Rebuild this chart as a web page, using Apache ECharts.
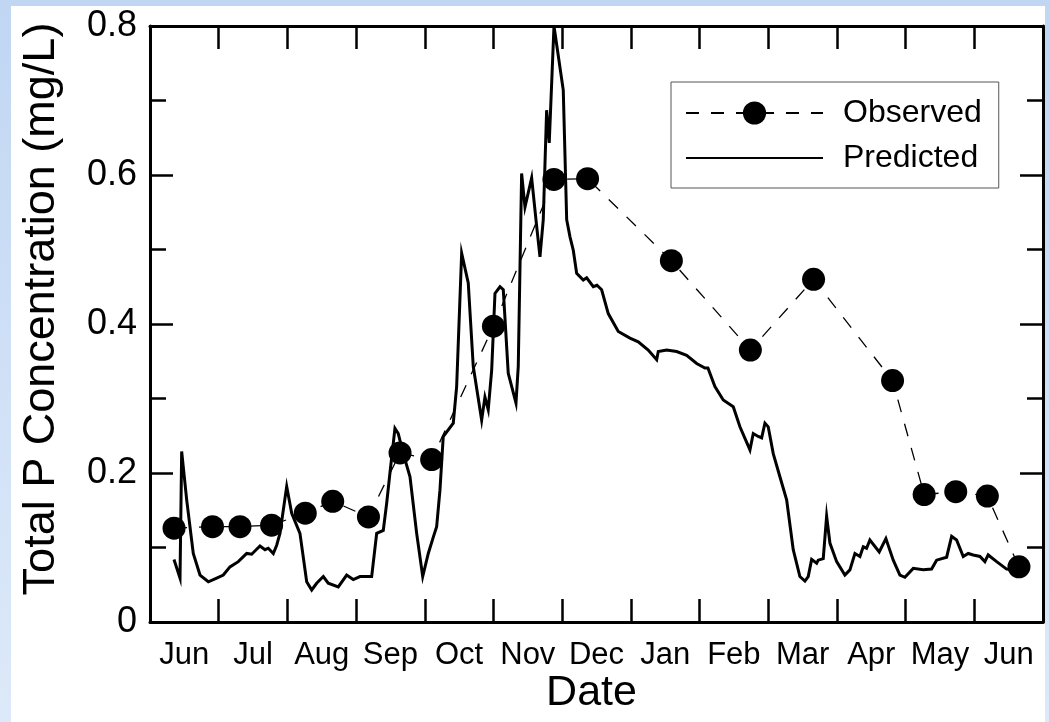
<!DOCTYPE html>
<html>
<head>
<meta charset="utf-8">
<title>Total P Concentration</title>
<script src="https://cdn.jsdelivr.net/npm/echarts@6/dist/echarts.min.js"></script>
<style>
  html, body { margin: 0; padding: 0; width: 1049px; height: 722px; overflow: hidden;
    background: linear-gradient(180deg, #c0d6f3 0%, #d2e2f7 60%, #dde9f9 100%); }
  #panel { position: absolute; left: 11px; top: 6px; width: 1034px; height: 716px; background: #fff; }
  #chart { position: absolute; left: 0; top: 0; width: 1049px; height: 722px; }
</style>
</head>
<body>
<div id="panel"></div>
<div id="chart"></div>
<script>
// Month names shown under each month interval
const monthLabels = ['Jun', 'Jul', 'Aug', 'Sep', 'Oct', 'Nov', 'Dec', 'Jan', 'Feb', 'Mar', 'Apr', 'May', 'Jun'];

// Time is counted in months from the start of the first June
const obsMonth = [0.35, 0.91, 1.31, 1.77, 2.26, 2.66, 3.18, 3.64, 4.10, 5.00,
                  5.88, 6.37, 7.59, 8.74, 9.66, 10.81, 11.27, 11.73, 12.19, 12.65];
const obsConc  = [0.126, 0.128, 0.128, 0.130, 0.146, 0.162, 0.141, 0.227, 0.218, 0.397,
                  0.594, 0.595, 0.485, 0.365, 0.460, 0.324, 0.171, 0.175, 0.169, 0.074];

const predMonth = [
  0.349, 0.437, 0.461, 0.534, 0.630, 0.728, 0.849, 0.971, 1.067, 1.164,
  1.285, 1.408, 1.480, 1.601, 1.674, 1.722, 1.795, 1.844, 1.892, 1.990,
  2.063, 2.183, 2.281, 2.354, 2.426, 2.523, 2.595, 2.741, 2.863, 2.959,
  3.057, 3.227, 3.300, 3.396, 3.445, 3.493, 3.566, 3.614, 3.687, 3.785,
  3.882, 3.970, 4.051, 4.124, 4.173, 4.221, 4.269, 4.415, 4.464, 4.537,
  4.633, 4.706, 4.828, 4.876, 4.924, 4.974, 5.022, 5.095, 5.143, 5.215,
  5.280, 5.328, 5.361, 5.410, 5.459, 5.556, 5.629, 5.677, 5.725, 5.774,
  5.812, 5.881, 6.016, 6.066, 6.114, 6.162, 6.211, 6.307, 6.357, 6.453,
  6.507, 6.575, 6.671, 6.817, 6.987, 7.108, 7.253, 7.376, 7.399, 7.521,
  7.667, 7.812, 7.958, 8.079, 8.122, 8.224, 8.345, 8.491, 8.588, 8.734,
  8.782, 8.855, 8.904, 8.952, 9.000, 9.073, 9.170, 9.268, 9.364, 9.461,
  9.534, 9.582, 9.632, 9.705, 9.728, 9.801, 9.850, 9.898, 9.996, 10.116,
  10.189, 10.262, 10.335, 10.383, 10.432, 10.480, 10.616, 10.713, 10.820, 10.917,
  10.990, 11.111, 11.256, 11.378, 11.451, 11.597, 11.670, 11.742, 11.839, 11.911,
  11.984, 12.082, 12.154, 12.202, 12.325, 12.470, 12.616
];
const predConc = [
  0.084, 0.059, 0.229, 0.164, 0.092, 0.063, 0.054, 0.059, 0.063, 0.074,
  0.081, 0.092, 0.091, 0.102, 0.097, 0.099, 0.092, 0.103, 0.119, 0.182,
  0.146, 0.119, 0.054, 0.043, 0.052, 0.061, 0.052, 0.047, 0.063, 0.057,
  0.061, 0.061, 0.119, 0.123, 0.159, 0.200, 0.260, 0.253, 0.226, 0.195,
  0.119, 0.061, 0.092, 0.114, 0.128, 0.177, 0.249, 0.267, 0.316, 0.495,
  0.455, 0.343, 0.271, 0.302, 0.285, 0.338, 0.441, 0.450, 0.446, 0.334,
  0.311, 0.294, 0.343, 0.602, 0.557, 0.596, 0.531, 0.490, 0.540, 0.687,
  0.643, 0.800, 0.714, 0.540, 0.517, 0.499, 0.468, 0.459, 0.462, 0.450,
  0.452, 0.446, 0.414, 0.390, 0.381, 0.376, 0.365, 0.352, 0.363, 0.365,
  0.363, 0.358, 0.347, 0.341, 0.341, 0.316, 0.298, 0.289, 0.262, 0.231,
  0.253, 0.249, 0.247, 0.267, 0.262, 0.226, 0.195, 0.164, 0.097, 0.061,
  0.055, 0.061, 0.084, 0.079, 0.083, 0.085, 0.142, 0.106, 0.081, 0.063,
  0.070, 0.092, 0.088, 0.101, 0.099, 0.110, 0.094, 0.112, 0.083, 0.063,
  0.060, 0.072, 0.070, 0.071, 0.083, 0.087, 0.115, 0.110, 0.088, 0.092,
  0.090, 0.088, 0.081, 0.090, 0.081, 0.071, 0.070
];

const FONT = '"Liberation Sans", Arial, Helvetica, sans-serif';
const BLACK = '#000';

function pairs(xs, ys) {
  const n = Math.min(xs.length, ys.length);
  const out = [];
  for (let i = 0; i < n; i++) out.push([xs[i], ys[i]]);
  return out;
}

const frameLine = { show: true, onZero: false, lineStyle: { color: BLACK, width: 3 } };
const majorTick = { show: true, inside: true, length: 23, lineStyle: { color: BLACK, width: 2.5 } };
const minorTick = { show: true, splitNumber: 2, length: 16, lineStyle: { color: BLACK, width: 2.5 } };

const chart = echarts.init(document.getElementById('chart'), null, { renderer: 'canvas' });

chart.setOption({
  animation: false,
  backgroundColor: 'transparent',
  textStyle: { fontFamily: FONT, color: BLACK },
  grid: { left: 150, top: 26, right: 6, bottom: 100, containLabel: false },
  xAxis: [
    {
      type: 'value', min: 0, max: 13, interval: 1, position: 'bottom',
      axisLine: frameLine, axisTick: majorTick, axisLabel: { show: false },
      splitLine: { show: false },
      name: 'Date', nameLocation: 'middle', nameGap: 50,
      nameTextStyle: { fontSize: 43, color: BLACK, fontFamily: FONT, padding: [0, 10, 0, 0] }
    },
    {
      type: 'category', data: monthLabels, position: 'bottom', boundaryGap: true,
      axisLine: { show: false }, axisTick: { show: false },
      axisLabel: { interval: 0, fontSize: 31, margin: 18, color: BLACK, fontFamily: FONT },
      splitLine: { show: false }
    },
    {
      type: 'value', min: 0, max: 13, interval: 1, position: 'top',
      axisLine: frameLine, axisTick: majorTick, axisLabel: { show: false },
      splitLine: { show: false }
    }
  ],
  yAxis: [
    {
      type: 'value', min: 0, max: 0.8, interval: 0.2, position: 'left',
      axisLine: frameLine, axisTick: majorTick, minorTick: minorTick,
      axisLabel: { fontSize: 36, margin: 13, color: BLACK, fontFamily: FONT },
      splitLine: { show: false }, minorSplitLine: { show: false },
      name: 'Total P Concentration (mg/L)', nameLocation: 'middle', nameGap: 86, nameRotate: 90,
      nameTextStyle: { fontSize: 45, color: BLACK, fontFamily: FONT, padding: [0, 0, 0, 30] }
    },
    {
      type: 'value', min: 0, max: 0.8, interval: 0.2, position: 'right',
      axisLine: frameLine, axisTick: majorTick, minorTick: minorTick,
      axisLabel: { show: false },
      splitLine: { show: false }, minorSplitLine: { show: false }
    }
  ],
  legend: {
    orient: 'vertical', left: 671, top: 82,
    padding: [15, 17, 14, 14],
    itemWidth: 137, itemHeight: 29, itemGap: 13,
    borderColor: '#555', borderWidth: 1, backgroundColor: '#fff',
    selectedMode: false,
    textStyle: { fontSize: 32, color: BLACK, fontFamily: FONT, padding: [0, 0, 0, 15] },
    data: ['Observed', { name: 'Predicted', itemStyle: { opacity: 0 } }]
  },
  series: [
    {
      name: 'Predicted', type: 'line', xAxisIndex: 0, yAxisIndex: 0,
      data: pairs(predMonth, predConc),
      symbol: 'none', showSymbol: false,
      lineStyle: { color: BLACK, width: 3, join: 'miter' },
      itemStyle: { color: 'rgba(0,0,0,0)', borderWidth: 0 },
      z: 2
    },
    {
      name: 'Observed', type: 'line', xAxisIndex: 0, yAxisIndex: 0,
      data: pairs(obsMonth, obsConc),
      symbol: 'circle', symbolSize: 23,
      itemStyle: { color: BLACK },
      lineStyle: { color: BLACK, width: 1.3, type: [13, 12] },
      z: 3
    }
  ]
});
</script>
</body>
</html>
